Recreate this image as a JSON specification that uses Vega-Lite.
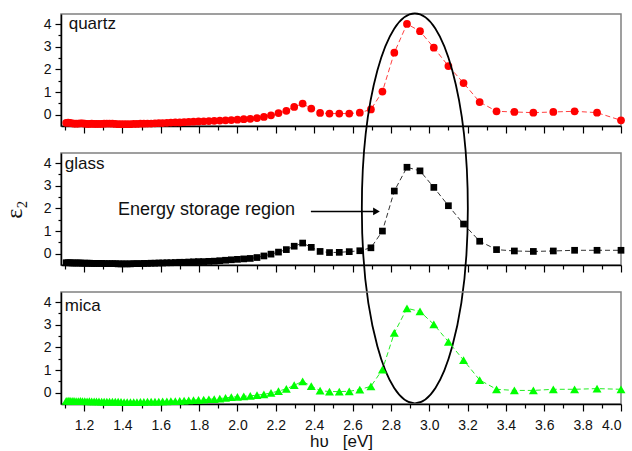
{
  "$schema": "https://vega.github.io/schema/vega-lite/v6.json",
  "background": "white",
  "padding": {"left": 1, "top": 9, "right": 0, "bottom": 0},
  "bounds": "flush",
  "spacing": 27,
  "config": {
    "font": "Liberation Sans",
    "view": {"stroke": "#808080", "strokeWidth": 1.5},
    "axis": {
      "grid": false,
      "domainColor": "black",
      "domainWidth": 1.5,
      "tickColor": "black",
      "tickWidth": 1.2,
      "labelFont": "Liberation Sans",
      "labelFontSize": 14,
      "labelColor": "#111111",
      "labelPadding": 4,
      "titleFont": "Liberation Sans",
      "titleFontWeight": "normal",
      "titleColor": "#111111"
    }
  },
  "datasets": {
    "quartz": [
      {"hv":1.107,"eps2":-0.36},{"hv":1.117,"eps2":-0.35},{"hv":1.127,"eps2":-0.36},{"hv":1.138,"eps2":-0.38},{"hv":1.148,"eps2":-0.39},{"hv":1.159,"eps2":-0.40},{"hv":1.170,"eps2":-0.39},{"hv":1.181,"eps2":-0.38},{"hv":1.192,"eps2":-0.38},{"hv":1.204,"eps2":-0.40},
      {"hv":1.216,"eps2":-0.41},{"hv":1.228,"eps2":-0.41},{"hv":1.240,"eps2":-0.40},{"hv":1.253,"eps2":-0.41},{"hv":1.265,"eps2":-0.41},{"hv":1.278,"eps2":-0.41},{"hv":1.292,"eps2":-0.41},{"hv":1.305,"eps2":-0.40},{"hv":1.319,"eps2":-0.39},
      {"hv":1.333,"eps2":-0.39},{"hv":1.348,"eps2":-0.40},{"hv":1.363,"eps2":-0.41},{"hv":1.378,"eps2":-0.42},{"hv":1.393,"eps2":-0.42},{"hv":1.409,"eps2":-0.42},{"hv":1.425,"eps2":-0.42},{"hv":1.442,"eps2":-0.42},{"hv":1.459,"eps2":-0.41},{"hv":1.476,"eps2":-0.41},
      {"hv":1.494,"eps2":-0.40},{"hv":1.512,"eps2":-0.40},{"hv":1.531,"eps2":-0.39},{"hv":1.550,"eps2":-0.39},{"hv":1.570,"eps2":-0.38},{"hv":1.590,"eps2":-0.37},{"hv":1.610,"eps2":-0.37},{"hv":1.632,"eps2":-0.36},{"hv":1.653,"eps2":-0.35},{"hv":1.676,"eps2":-0.34},
      {"hv":1.699,"eps2":-0.34},{"hv":1.722,"eps2":-0.33},{"hv":1.746,"eps2":-0.32},{"hv":1.771,"eps2":-0.31},{"hv":1.797,"eps2":-0.30},{"hv":1.824,"eps2":-0.29},{"hv":1.851,"eps2":-0.28},{"hv":1.879,"eps2":-0.27},{"hv":1.908,"eps2":-0.26},{"hv":1.938,"eps2":-0.25},
      {"hv":1.968,"eps2":-0.24},{"hv":2.000,"eps2":-0.22},{"hv":2.033,"eps2":-0.20},{"hv":2.067,"eps2":-0.18},{"hv":2.102,"eps2":-0.15},{"hv":2.138,"eps2":-0.10},{"hv":2.175,"eps2":-0.03},{"hv":2.214,"eps2":0.07},{"hv":2.255,"eps2":0.17},{"hv":2.296,"eps2":0.34},
      {"hv":2.340,"eps2":0.49},{"hv":2.385,"eps2":0.27},{"hv":2.431,"eps2":0.08},{"hv":2.480,"eps2":0.05},{"hv":2.531,"eps2":0.05},{"hv":2.583,"eps2":0.05},{"hv":2.638,"eps2":0.09},{"hv":2.696,"eps2":0.23},{"hv":2.756,"eps2":1.02},{"hv":2.818,"eps2":2.74},
      {"hv":2.884,"eps2":4.01},{"hv":2.952,"eps2":3.69},{"hv":3.024,"eps2":2.96},{"hv":3.100,"eps2":2.15},{"hv":3.179,"eps2":1.40},{"hv":3.263,"eps2":0.56},{"hv":3.351,"eps2":0.15},{"hv":3.444,"eps2":0.12},{"hv":3.543,"eps2":0.09},{"hv":3.647,"eps2":0.12},
      {"hv":3.758,"eps2":0.15},{"hv":3.875,"eps2":0.09},{"hv":4.000,"eps2":-0.25}
    ],
    "glass": [
      {"hv":1.107,"eps2":-0.40},{"hv":1.117,"eps2":-0.40},{"hv":1.127,"eps2":-0.40},{"hv":1.138,"eps2":-0.41},{"hv":1.148,"eps2":-0.41},{"hv":1.159,"eps2":-0.41},{"hv":1.170,"eps2":-0.41},{"hv":1.181,"eps2":-0.41},{"hv":1.192,"eps2":-0.42},{"hv":1.204,"eps2":-0.42},
      {"hv":1.216,"eps2":-0.42},{"hv":1.228,"eps2":-0.42},{"hv":1.240,"eps2":-0.43},{"hv":1.253,"eps2":-0.43},{"hv":1.265,"eps2":-0.43},{"hv":1.278,"eps2":-0.43},{"hv":1.292,"eps2":-0.43},{"hv":1.305,"eps2":-0.44},{"hv":1.319,"eps2":-0.44},
      {"hv":1.333,"eps2":-0.44},{"hv":1.348,"eps2":-0.44},{"hv":1.363,"eps2":-0.44},{"hv":1.378,"eps2":-0.45},{"hv":1.393,"eps2":-0.45},{"hv":1.409,"eps2":-0.45},{"hv":1.425,"eps2":-0.45},{"hv":1.442,"eps2":-0.45},{"hv":1.459,"eps2":-0.44},{"hv":1.476,"eps2":-0.44},
      {"hv":1.494,"eps2":-0.44},{"hv":1.512,"eps2":-0.43},{"hv":1.531,"eps2":-0.43},{"hv":1.550,"eps2":-0.42},{"hv":1.570,"eps2":-0.42},{"hv":1.590,"eps2":-0.41},{"hv":1.610,"eps2":-0.41},{"hv":1.632,"eps2":-0.40},{"hv":1.653,"eps2":-0.40},{"hv":1.676,"eps2":-0.39},
      {"hv":1.699,"eps2":-0.38},{"hv":1.722,"eps2":-0.38},{"hv":1.746,"eps2":-0.37},{"hv":1.771,"eps2":-0.36},{"hv":1.797,"eps2":-0.35},{"hv":1.824,"eps2":-0.35},{"hv":1.851,"eps2":-0.34},{"hv":1.879,"eps2":-0.33},{"hv":1.908,"eps2":-0.31},{"hv":1.938,"eps2":-0.29},
      {"hv":1.968,"eps2":-0.27},{"hv":2.000,"eps2":-0.25},{"hv":2.033,"eps2":-0.23},{"hv":2.067,"eps2":-0.21},{"hv":2.102,"eps2":-0.17},{"hv":2.138,"eps2":-0.10},{"hv":2.175,"eps2":-0.02},{"hv":2.214,"eps2":0.07},{"hv":2.255,"eps2":0.18},{"hv":2.296,"eps2":0.33},
      {"hv":2.340,"eps2":0.47},{"hv":2.385,"eps2":0.28},{"hv":2.431,"eps2":0.10},{"hv":2.480,"eps2":0.05},{"hv":2.531,"eps2":0.06},{"hv":2.583,"eps2":0.09},{"hv":2.638,"eps2":0.13},{"hv":2.696,"eps2":0.26},{"hv":2.756,"eps2":1.00},{"hv":2.818,"eps2":2.77},
      {"hv":2.884,"eps2":3.82},{"hv":2.952,"eps2":3.66},{"hv":3.024,"eps2":2.93},{"hv":3.100,"eps2":2.12},{"hv":3.179,"eps2":1.31},{"hv":3.263,"eps2":0.55},{"hv":3.351,"eps2":0.18},{"hv":3.444,"eps2":0.12},{"hv":3.543,"eps2":0.10},{"hv":3.647,"eps2":0.12},
      {"hv":3.758,"eps2":0.15},{"hv":3.875,"eps2":0.15},{"hv":4.000,"eps2":0.15}
    ],
    "mica": [
      {"hv":1.107,"eps2":-0.36},{"hv":1.117,"eps2":-0.35},{"hv":1.127,"eps2":-0.35},{"hv":1.138,"eps2":-0.36},{"hv":1.148,"eps2":-0.36},{"hv":1.159,"eps2":-0.37},{"hv":1.170,"eps2":-0.37},{"hv":1.181,"eps2":-0.36},{"hv":1.192,"eps2":-0.37},{"hv":1.204,"eps2":-0.37},
      {"hv":1.216,"eps2":-0.38},{"hv":1.228,"eps2":-0.37},{"hv":1.240,"eps2":-0.38},{"hv":1.253,"eps2":-0.38},{"hv":1.265,"eps2":-0.38},{"hv":1.278,"eps2":-0.38},{"hv":1.292,"eps2":-0.39},{"hv":1.305,"eps2":-0.39},{"hv":1.319,"eps2":-0.39},
      {"hv":1.333,"eps2":-0.39},{"hv":1.348,"eps2":-0.39},{"hv":1.363,"eps2":-0.39},{"hv":1.378,"eps2":-0.40},{"hv":1.393,"eps2":-0.41},{"hv":1.409,"eps2":-0.42},{"hv":1.425,"eps2":-0.42},{"hv":1.442,"eps2":-0.42},{"hv":1.459,"eps2":-0.42},{"hv":1.476,"eps2":-0.42},
      {"hv":1.494,"eps2":-0.41},{"hv":1.512,"eps2":-0.41},{"hv":1.531,"eps2":-0.40},{"hv":1.550,"eps2":-0.40},{"hv":1.570,"eps2":-0.39},{"hv":1.590,"eps2":-0.39},{"hv":1.610,"eps2":-0.38},{"hv":1.632,"eps2":-0.38},{"hv":1.653,"eps2":-0.37},{"hv":1.676,"eps2":-0.37},
      {"hv":1.699,"eps2":-0.36},{"hv":1.722,"eps2":-0.35},{"hv":1.746,"eps2":-0.34},{"hv":1.771,"eps2":-0.33},{"hv":1.797,"eps2":-0.32},{"hv":1.824,"eps2":-0.31},{"hv":1.851,"eps2":-0.29},{"hv":1.879,"eps2":-0.28},{"hv":1.908,"eps2":-0.26},{"hv":1.938,"eps2":-0.23},
      {"hv":1.968,"eps2":-0.20},{"hv":2.000,"eps2":-0.18},{"hv":2.033,"eps2":-0.16},{"hv":2.067,"eps2":-0.14},{"hv":2.102,"eps2":-0.11},{"hv":2.138,"eps2":-0.07},{"hv":2.175,"eps2":-0.01},{"hv":2.214,"eps2":0.07},{"hv":2.255,"eps2":0.17},{"hv":2.296,"eps2":0.33},
      {"hv":2.340,"eps2":0.50},{"hv":2.385,"eps2":0.29},{"hv":2.431,"eps2":0.09},{"hv":2.480,"eps2":0.05},{"hv":2.531,"eps2":0.05},{"hv":2.583,"eps2":0.06},{"hv":2.638,"eps2":0.14},{"hv":2.696,"eps2":0.28},{"hv":2.756,"eps2":1.02},{"hv":2.818,"eps2":2.64},
      {"hv":2.884,"eps2":3.73},{"hv":2.952,"eps2":3.59},{"hv":3.024,"eps2":3.02},{"hv":3.100,"eps2":2.25},{"hv":3.179,"eps2":1.44},{"hv":3.263,"eps2":0.56},{"hv":3.351,"eps2":0.15},{"hv":3.444,"eps2":0.10},{"hv":3.543,"eps2":0.10},{"hv":3.647,"eps2":0.15},
      {"hv":3.758,"eps2":0.15},{"hv":3.875,"eps2":0.18},{"hv":4.000,"eps2":0.15}
    ]
  },
  "vconcat": [
    {
      "width": 560,
      "height": 112,
      "encoding": {
        "x": {"field": "hv", "type": "quantitative",
              "scale": {"domain": [1.08, 4.0], "nice": false, "zero": false},
              "axis": {"title": null, "labels": false,
                       "values": [1.1,1.2,1.3,1.4,1.5,1.6,1.7,1.8,1.9,2.0,2.1,2.2,2.3,2.4,2.5,2.6,2.7,2.8,2.9,3.0,3.1,3.2,3.3,3.4,3.5,3.6,3.7,3.8,3.9,4.0],
                       "tickSize": {"condition": {"test": "abs(round(datum.value*10)) % 2 == 0", "value": 7}, "value": 4}}},
        "y": {"field": "eps2", "type": "quantitative",
              "scale": {"domain": [-0.5, 4.45], "nice": false, "zero": false},
              "axis": {"title": null,
                       "values": [0,0.5,1,1.5,2,2.5,3,3.5,4],
                       "labelExpr": "datum.value % 1 == 0 ? format(datum.value, 'd') : ''",
                       "tickSize": {"condition": {"test": "datum.value % 1 == 0", "value": 6}, "value": 3}}}
      },
      "layer": [
        {"data": {"name": "quartz"},
         "mark": {"type": "line", "color": "#ff4040", "strokeWidth": 1, "strokeDash": [5, 3]}},
        {"data": {"name": "quartz"},
         "mark": {"type": "point", "shape": "circle", "filled": true, "color": "#ff0000", "opacity": 1, "size": 60}},
        {"data": {"values": [{"hv": 1.12, "eps2": 3.77, "label": "quartz"}]},
         "mark": {"type": "text", "align": "left", "baseline": "alphabetic", "fontSize": 17, "color": "#111111"},
         "encoding": {"text": {"field": "label"}}}
      ]
    },
    {
      "width": 560,
      "height": 112,
      "encoding": {
        "x": {"field": "hv", "type": "quantitative",
              "scale": {"domain": [1.08, 4.0], "nice": false, "zero": false},
              "axis": {"title": null, "labels": false,
                       "values": [1.1,1.2,1.3,1.4,1.5,1.6,1.7,1.8,1.9,2.0,2.1,2.2,2.3,2.4,2.5,2.6,2.7,2.8,2.9,3.0,3.1,3.2,3.3,3.4,3.5,3.6,3.7,3.8,3.9,4.0],
                       "tickSize": {"condition": {"test": "abs(round(datum.value*10)) % 2 == 0", "value": 7}, "value": 4}}},
        "y": {"field": "eps2", "type": "quantitative",
              "scale": {"domain": [-0.5, 4.45], "nice": false, "zero": false},
              "axis": {"title": "ε₂", "titleFont": "Liberation Serif", "titleFontSize": 24, "titlePadding": 17,
                       "values": [0,0.5,1,1.5,2,2.5,3,3.5,4],
                       "labelExpr": "datum.value % 1 == 0 ? format(datum.value, 'd') : ''",
                       "tickSize": {"condition": {"test": "datum.value % 1 == 0", "value": 6}, "value": 3}}}
      },
      "layer": [
        {"data": {"name": "glass"},
         "mark": {"type": "line", "color": "#333333", "strokeWidth": 1, "strokeDash": [5, 3]}},
        {"data": {"name": "glass"},
         "mark": {"type": "point", "shape": "square", "filled": true, "color": "#000000", "opacity": 1, "size": 45}},
        {"data": {"values": [{"hv": 1.10, "eps2": 3.76, "label": "glass"}]},
         "mark": {"type": "text", "align": "left", "baseline": "alphabetic", "fontSize": 17, "color": "#111111"},
         "encoding": {"text": {"field": "label"}}},
        {"data": {"values": [{"hv": 1.377, "eps2": 1.70, "label": "Energy storage region"}]},
         "mark": {"type": "text", "align": "left", "baseline": "alphabetic", "fontSize": 18, "color": "#111111"},
         "encoding": {"text": {"field": "label"}}},
        {"data": {"values": [{"hv": 2.383, "hv2": 2.71, "eps2": 1.87}]},
         "mark": {"type": "rule", "color": "#000000", "strokeWidth": 1.5},
         "encoding": {"x2": {"field": "hv2"}}},
        {"data": {"values": [{"hv": 2.725, "eps2": 1.87}]},
         "mark": {"type": "point", "shape": "triangle-right", "filled": true, "color": "#000000", "opacity": 1, "size": 60}},
        {"data": {"values": [{"hv": 2.925, "eps2": 2.0}]},
         "mark": {"type": "point",
                  "shape": "M 0.2718 0 C 0.2718 0.5523 0.1501 1 0 1 C -0.1501 1 -0.2718 0.5523 -0.2718 0 C -0.2718 -0.5523 -0.1501 -1 0 -1 C 0.1501 -1 0.2718 -0.5523 0.2718 0 Z",
                  "filled": false, "stroke": "#000000", "strokeWidth": 1.8, "opacity": 1, "size": 152100}}
      ]
    },
    {
      "width": 560,
      "height": 112,
      "encoding": {
        "x": {"field": "hv", "type": "quantitative",
              "scale": {"domain": [1.08, 4.0], "nice": false, "zero": false},
              "axis": {"title": "hυ\u00a0\u00a0\u00a0[eV]", "titleFontSize": 17, "titlePadding": 1,
                       "labelFontSize": 14, "labelPadding": 7,
                       "values": [1.1,1.2,1.3,1.4,1.5,1.6,1.7,1.8,1.9,2.0,2.1,2.2,2.3,2.4,2.5,2.6,2.7,2.8,2.9,3.0,3.1,3.2,3.3,3.4,3.5,3.6,3.7,3.8,3.9,4.0],
                       "labelExpr": "abs(round(datum.value*10)) % 2 == 0 ? format(datum.value, '.1f') : ''",
                       "tickSize": {"condition": {"test": "abs(round(datum.value*10)) % 2 == 0", "value": 7}, "value": 4}}},
        "y": {"field": "eps2", "type": "quantitative",
              "scale": {"domain": [-0.5, 4.45], "nice": false, "zero": false},
              "axis": {"title": null,
                       "values": [0,0.5,1,1.5,2,2.5,3,3.5,4],
                       "labelExpr": "datum.value % 1 == 0 ? format(datum.value, 'd') : ''",
                       "tickSize": {"condition": {"test": "datum.value % 1 == 0", "value": 6}, "value": 3}}}
      },
      "layer": [
        {"data": {"name": "mica"},
         "mark": {"type": "line", "color": "#22ee22", "strokeWidth": 1, "strokeDash": [5, 3]}},
        {"data": {"name": "mica"},
         "mark": {"type": "point", "shape": "triangle-up", "filled": true, "color": "#00ff00", "opacity": 1, "size": 80}},
        {"data": {"values": [{"hv": 1.10, "eps2": 3.6, "label": "mica"}]},
         "mark": {"type": "text", "align": "left", "baseline": "alphabetic", "fontSize": 17, "color": "#111111"},
         "encoding": {"text": {"field": "label"}}}
      ]
    }
  ]
}
